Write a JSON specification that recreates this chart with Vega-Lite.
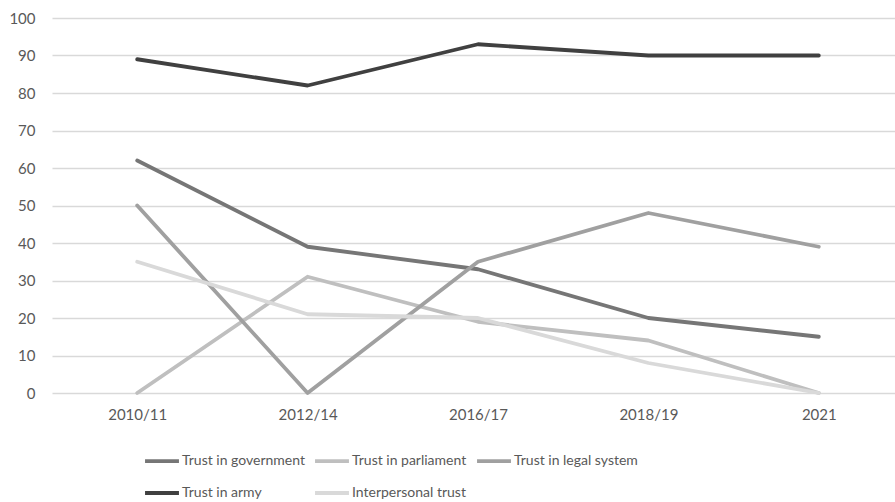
{
  "$schema": "https://vega.github.io/schema/vega-lite/v6.json",
  "width": 852,
  "height": 375,
  "autosize": {"type": "none"},
  "padding": {"left": 52, "top": 18, "right": 0, "bottom": 109},
  "background": "white",
  "config": {
    "view": {"stroke": null},
    "font": "Lato"
  },
  "data": {
    "values": [
      {"period": "2010/11", "series": "Trust in government", "value": 62},
      {"period": "2012/14", "series": "Trust in government", "value": 39},
      {"period": "2016/17", "series": "Trust in government", "value": 33},
      {"period": "2018/19", "series": "Trust in government", "value": 20},
      {"period": "2021", "series": "Trust in government", "value": 15},
      {"period": "2010/11", "series": "Trust in parliament", "value": 0},
      {"period": "2012/14", "series": "Trust in parliament", "value": 31},
      {"period": "2016/17", "series": "Trust in parliament", "value": 19},
      {"period": "2018/19", "series": "Trust in parliament", "value": 14},
      {"period": "2021", "series": "Trust in parliament", "value": 0},
      {"period": "2010/11", "series": "Trust in legal system", "value": 50},
      {"period": "2012/14", "series": "Trust in legal system", "value": 0},
      {"period": "2016/17", "series": "Trust in legal system", "value": 35},
      {"period": "2018/19", "series": "Trust in legal system", "value": 48},
      {"period": "2021", "series": "Trust in legal system", "value": 39},
      {"period": "2010/11", "series": "Trust in army", "value": 89},
      {"period": "2012/14", "series": "Trust in army", "value": 82},
      {"period": "2016/17", "series": "Trust in army", "value": 93},
      {"period": "2018/19", "series": "Trust in army", "value": 90},
      {"period": "2021", "series": "Trust in army", "value": 90},
      {"period": "2010/11", "series": "Interpersonal trust", "value": 35},
      {"period": "2012/14", "series": "Interpersonal trust", "value": 21},
      {"period": "2016/17", "series": "Interpersonal trust", "value": 20},
      {"period": "2018/19", "series": "Interpersonal trust", "value": 8},
      {"period": "2021", "series": "Interpersonal trust", "value": 0}
    ]
  },
  "mark": {"type": "line", "strokeWidth": 3.8, "strokeCap": "round", "strokeJoin": "round"},
  "encoding": {
    "x": {
      "field": "period",
      "type": "ordinal",
      "sort": null,
      "title": null,
      "scale": {"type": "point", "padding": 0.5},
      "axis": {
        "labelAngle": 0,
        "domain": false,
        "ticks": false,
        "grid": false,
        "labelFontSize": 15,
        "labelColor": "#595959",
        "labelPadding": 14
      }
    },
    "y": {
      "field": "value",
      "type": "quantitative",
      "title": null,
      "scale": {"domain": [0, 100], "nice": false},
      "axis": {
        "values": [0, 10, 20, 30, 40, 50, 60, 70, 80, 90, 100],
        "domain": false,
        "ticks": false,
        "gridColor": "#d9d9d9",
        "gridWidth": 1.3,
        "labelFontSize": 15,
        "labelColor": "#595959",
        "labelPadding": 17
      }
    },
    "color": {
      "field": "series",
      "type": "nominal",
      "sort": ["Trust in government", "Trust in parliament", "Trust in legal system", "Trust in army", "Interpersonal trust"],
      "scale": {
        "domain": ["Trust in government", "Trust in parliament", "Trust in legal system", "Trust in army", "Interpersonal trust"],
        "range": ["#767676", "#bfbfbf", "#a0a0a0", "#404040", "#d9d9d9"]
      },
      "legend": {
        "title": null,
        "orient": "none",
        "legendX": 91,
        "legendY": 424,
        "direction": "horizontal",
        "columns": 3,
        "symbolType": "stroke",
        "symbolSize": 1150,
        "symbolStrokeWidth": 3.8,
        "labelFontSize": 14,
        "labelColor": "#595959",
        "labelOffset": 1,
        "columnPadding": 2,
        "rowPadding": 5,
        "labelLimit": 300
      }
    }
  }
}
